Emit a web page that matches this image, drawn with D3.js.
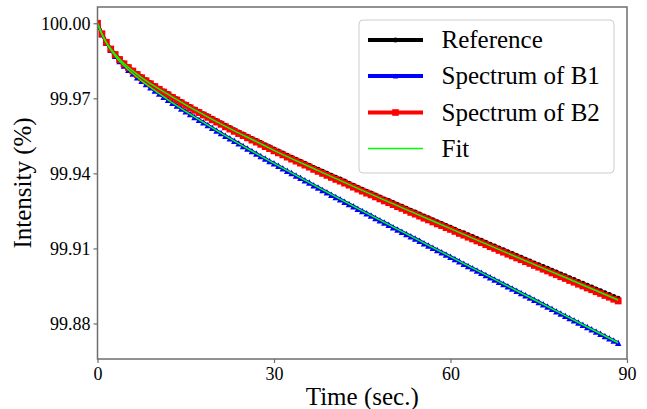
<!DOCTYPE html>
<html><head><meta charset="utf-8">
<script src="https://cdn.jsdelivr.net/npm/d3@7"></script>
<style>
html,body{margin:0;padding:0;background:#fff;}
svg{display:block;}
text{font-family:"Liberation Serif","Times New Roman",serif;}
</style></head>
<body>
<svg id="chart" width="647" height="409"></svg>
<script>
// ---- data ----
const time = [0,0.75,1.5,2.25,3,3.75,4.5,5.25,6,6.75,7.5,8.25,9,9.75,10.5,11.25,12,12.75,13.5,14.25,15,15.75,16.5,17.25,18,18.75,19.5,20.25,21,21.75,22.5,23.25,24,24.75,25.5,26.25,27,27.75,28.5,29.25,30,30.75,31.5,32.25,33,33.75,34.5,35.25,36,36.75,37.5,38.25,39,39.75,40.5,41.25,42,42.75,43.5,44.25,45,45.75,46.5,47.25,48,48.75,49.5,50.25,51,51.75,52.5,53.25,54,54.75,55.5,56.25,57,57.75,58.5,59.25,60,60.75,61.5,62.25,63,63.75,64.5,65.25,66,66.75,67.5,68.25,69,69.75,70.5,71.25,72,72.75,73.5,74.25,75,75.75,76.5,77.25,78,78.75,79.5,80.25,81,81.75,82.5,83.25,84,84.75,85.5,86.25,87,87.75,88.5];

const reference = [100.0000,99.9959,99.9925,99.9899,99.9877,99.9858,99.9841,99.9826,99.9812,99.9799,99.9786,99.9774,99.9762,99.9751,99.9740,99.9729,99.9719,99.9708,99.9698,99.9687,99.9677,99.9667,99.9657,99.9648,99.9638,99.9630,99.9620,99.9611,99.9602,99.9592,99.9583,99.9574,99.9565,99.9557,99.9548,99.9539,99.9531,99.9523,99.9514,99.9506,99.9497,99.9489,99.9481,99.9472,99.9464,99.9456,99.9448,99.9440,99.9432,99.9423,99.9416,99.9408,99.9400,99.9392,99.9384,99.9377,99.9369,99.9361,99.9353,99.9345,99.9337,99.9329,99.9322,99.9314,99.9306,99.9298,99.9292,99.9284,99.9276,99.9269,99.9261,99.9253,99.9246,99.9238,99.9230,99.9223,99.9215,99.9207,99.9200,99.9192,99.9185,99.9177,99.9169,99.9163,99.9155,99.9148,99.9140,99.9133,99.9125,99.9117,99.9110,99.9102,99.9095,99.9087,99.9080,99.9072,99.9065,99.9057,99.9050,99.9042,99.9035,99.9028,99.9021,99.9013,99.9006,99.8998,99.8991,99.8983,99.8976,99.8968,99.8961,99.8953,99.8946,99.8938,99.8931,99.8923,99.8916,99.8908,99.8901];

const spectrumB1 = [100.0000,99.9956,99.9922,99.9894,99.9870,99.9849,99.9831,99.9814,99.9799,99.9784,99.9770,99.9757,99.9744,99.9731,99.9719,99.9706,99.9694,99.9682,99.9671,99.9659,99.9648,99.9637,99.9625,99.9614,99.9604,99.9593,99.9582,99.9571,99.9561,99.9550,99.9540,99.9530,99.9520,99.9509,99.9499,99.9489,99.9479,99.9469,99.9459,99.9449,99.9440,99.9430,99.9420,99.9410,99.9401,99.9391,99.9382,99.9372,99.9363,99.9353,99.9344,99.9334,99.9325,99.9315,99.9306,99.9297,99.9287,99.9278,99.9269,99.9259,99.9250,99.9241,99.9232,99.9222,99.9213,99.9204,99.9195,99.9185,99.9176,99.9167,99.9158,99.9149,99.9140,99.9131,99.9121,99.9112,99.9103,99.9094,99.9085,99.9076,99.9067,99.9058,99.9049,99.9039,99.9030,99.9021,99.9012,99.9003,99.8994,99.8985,99.8976,99.8967,99.8958,99.8949,99.8940,99.8931,99.8922,99.8913,99.8904,99.8895,99.8886,99.8877,99.8868,99.8859,99.8849,99.8840,99.8831,99.8822,99.8813,99.8804,99.8795,99.8786,99.8777,99.8768,99.8759,99.8750,99.8741,99.8732,99.8723];

const spectrumB2 = [100.0000,99.9958,99.9924,99.9897,99.9875,99.9855,99.9838,99.9823,99.9809,99.9795,99.9782,99.9770,99.9758,99.9747,99.9736,99.9725,99.9714,99.9703,99.9693,99.9682,99.9672,99.9662,99.9652,99.9643,99.9633,99.9624,99.9614,99.9605,99.9596,99.9586,99.9577,99.9568,99.9559,99.9551,99.9542,99.9533,99.9525,99.9516,99.9507,99.9499,99.9490,99.9482,99.9474,99.9465,99.9457,99.9449,99.9441,99.9433,99.9425,99.9416,99.9408,99.9400,99.9392,99.9384,99.9376,99.9369,99.9361,99.9353,99.9345,99.9337,99.9329,99.9321,99.9314,99.9306,99.9298,99.9290,99.9283,99.9275,99.9267,99.9260,99.9252,99.9244,99.9237,99.9229,99.9221,99.9214,99.9206,99.9198,99.9191,99.9183,99.9176,99.9168,99.9160,99.9153,99.9145,99.9138,99.9130,99.9123,99.9115,99.9107,99.9100,99.9092,99.9085,99.9077,99.9070,99.9062,99.9055,99.9047,99.9040,99.9032,99.9025,99.9017,99.9010,99.9002,99.8995,99.8987,99.8980,99.8972,99.8965,99.8957,99.8950,99.8942,99.8935,99.8927,99.8920,99.8912,99.8905,99.8897,99.8890];

const fitTime = [0,0.75,1.5,2.25,3,3.75,4.5,6,7.5,9,10.5,12,15,18,22.5,27,30,37.5,45,52.5,60,67.5,75,82.5,88.5];
const fitUpper = [100.0000,99.9958,99.9924,99.9898,99.9876,99.9856,99.9839,99.9810,99.9783,99.9759,99.9737,99.9716,99.9674,99.9635,99.9579,99.9527,99.9492,99.9411,99.9332,99.9255,99.9179,99.9103,99.9028,99.8954,99.8894];
const fitB1 = [100.0000,99.9956,99.9922,99.9894,99.9870,99.9849,99.9831,99.9799,99.9770,99.9744,99.9719,99.9694,99.9648,99.9604,99.9540,99.9479,99.9440,99.9344,99.9250,99.9158,99.9067,99.8976,99.8886,99.8795,99.8723];

const xTicks = [0, 30, 60, 90];
const yTicks = [99.88, 99.91, 99.94, 99.97, 100.00];
const legendLabels = ["Reference", "Spectrum of B1", "Spectrum of B2", "Fit"];

// ---- layout ----
const svg = d3.select("#chart");
const L = 97.5, R = 627, T = 7, B = 359;
const x = d3.scaleLinear().domain([0, 90]).range([L, R]);
const y = d3.scaleLinear().domain([99.8658, 100.0065]).range([B, T]);
const axisColor = "#6e6e6e";

const plot = svg.append("g");
plot.append("defs").append("clipPath").attr("id","clip")
  .append("rect").attr("x", L).attr("y", T).attr("width", R-L).attr("height", B-T);

const body = plot.append("g").attr("clip-path","url(#clip)");

const line = d3.line().x(d => x(d[0])).y(d => y(d[1]));
const smooth = d3.line().x(d => x(d[0])).y(d => y(d[1])).curve(d3.curveMonotoneX);

const triPath = s => `M0,${-s/2}L${s/2},${s/2}L${-s/2},${s/2}Z`;

const series = [
  {vals: reference, color: "#000000", marker: "circle"},
  {vals: spectrumB1, color: "#0000ff", marker: "tri"},
  {vals: spectrumB2, color: "#ff0000", marker: "square"}
];

series.forEach(s => {
  const pts = time.map((t, i) => [t, s.vals[i]]);
  body.append("path").datum(pts).attr("d", line)
    .attr("fill","none").attr("stroke", s.color).attr("stroke-width", 3)
    .attr("stroke-linejoin","round");
  const g = body.append("g");
  if (s.marker === "circle") {
    g.selectAll("circle").data(pts).join("circle")
      .attr("cx", d => x(d[0])).attr("cy", d => y(d[1])).attr("r", 2.5).attr("fill", s.color);
  } else if (s.marker === "tri") {
    g.selectAll("path").data(pts).join("path")
      .attr("transform", d => `translate(${x(d[0])},${y(d[1])})`)
      .attr("d", triPath(6.5)).attr("fill", s.color);
  } else {
    g.selectAll("rect").data(pts).join("rect")
      .attr("x", d => x(d[0]) - 3.4).attr("y", d => y(d[1]) - 3.4)
      .attr("width", 6.8).attr("height", 6.8).attr("fill", s.color);
  }
});

[fitUpper, fitB1].forEach(f => {
  body.append("path").datum(fitTime.map((t,i)=>[t, f[i]])).attr("d", smooth)
    .attr("fill","none").attr("stroke","#00ff00").attr("stroke-width",1.5);
});

// ---- axes ----
const xAxis = d3.axisBottom(x).tickValues(xTicks).tickFormat(d3.format("d"))
  .tickSize(4).tickSizeOuter(0).tickPadding(4);
const gx = svg.append("g").attr("transform", `translate(0,${B})`).call(xAxis);
gx.select(".domain").remove();
gx.selectAll(".tick line").attr("stroke", axisColor).attr("stroke-width", 1.2);
gx.selectAll(".tick text").attr("font-size", 18).attr("fill","#000")
  .attr("font-family","Liberation Serif, serif");

const yAxis = d3.axisLeft(y).tickValues(yTicks).tickFormat(d3.format(".2f"))
  .tickSize(4).tickSizeOuter(0).tickPadding(3);
const gy = svg.append("g").attr("transform", `translate(${L},0)`).call(yAxis);
gy.select(".domain").remove();
gy.selectAll(".tick line").attr("stroke", axisColor).attr("stroke-width", 1.2);
gy.selectAll(".tick text").attr("font-size", 18).attr("fill","#000")
  .attr("font-family","Liberation Serif, serif");

svg.append("rect").attr("x", L).attr("y", T).attr("width", R-L).attr("height", B-T)
  .attr("fill","none").attr("stroke", axisColor).attr("stroke-width", 1.5);

svg.append("text").attr("x", (L+R)/2).attr("y", 405).attr("text-anchor","middle")
  .attr("font-size", 25).attr("fill","#000").text("Time (sec.)");
svg.append("text").attr("transform", `translate(31,${(T+B)/2}) rotate(-90)`)
  .attr("text-anchor","middle").attr("font-size", 25).attr("fill","#000").text("Intensity (%)");

// ---- legend ----
const leg = svg.append("g");
leg.append("rect").attr("x", 359).attr("y", 20).attr("width", 255).attr("height", 153)
  .attr("rx", 4).attr("fill","#fff").attr("fill-opacity",0.85)
  .attr("stroke","#cccccc").attr("stroke-width",1);
const rowY = [40, 76, 112.5, 148.5];
const legColors = ["#000000", "#0000ff", "#ff0000", "#00ff00"];
legendLabels.forEach((lab, i) => {
  const cy = rowY[i];
  leg.append("line").attr("x1", 368).attr("x2", 423).attr("y1", cy).attr("y2", cy)
    .attr("stroke", legColors[i]).attr("stroke-width", i === 3 ? 1.5 : 4);
  if (i === 0) leg.append("circle").attr("cx", 395.5).attr("cy", cy).attr("r", 2.5).attr("fill", legColors[i]);
  if (i === 1) leg.append("path").attr("transform", `translate(395.5,${cy})`).attr("d", triPath(5)).attr("fill", legColors[i]);
  if (i === 2) leg.append("rect").attr("x", 392.2).attr("y", cy-3.3).attr("width", 6.6).attr("height", 6.6).attr("fill", legColors[i]);
  leg.append("text").attr("x", 441.5).attr("y", cy + 8.3).attr("font-size", 25).attr("fill","#000").text(lab);
});
</script>
</body></html>
